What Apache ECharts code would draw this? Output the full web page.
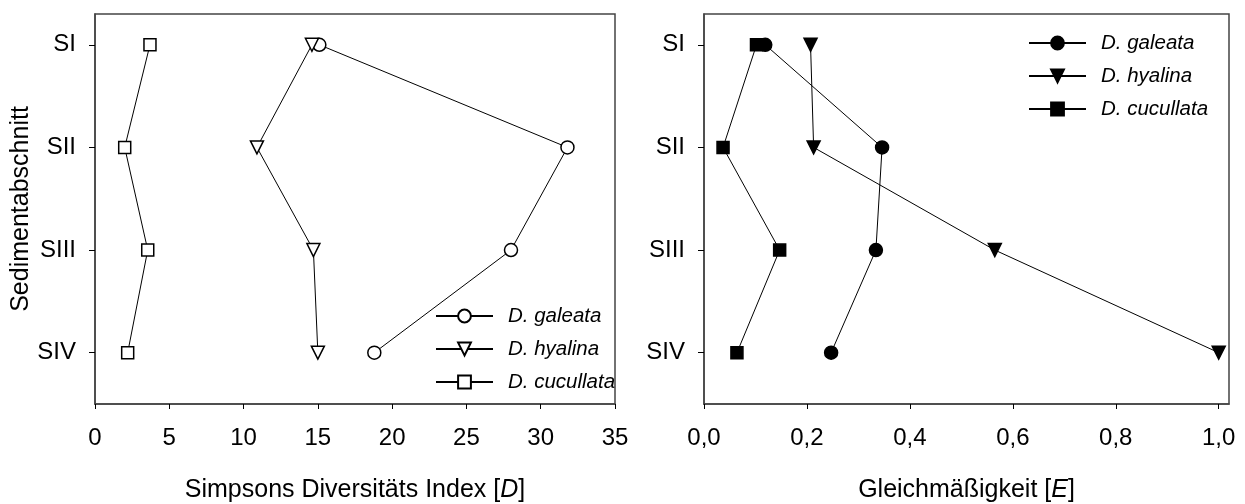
<!DOCTYPE html>
<html>
<head>
<meta charset="utf-8">
<script src="https://cdn.jsdelivr.net/npm/echarts@6/dist/echarts.min.js"></script>
<style>
html,body{margin:0;padding:0;background:#fff;}
#c{width:1245px;height:504px;}
</style>
</head>
<body>
<div id="c"></div>
<script>
// ---- data ----
const sections = ['SI', 'SII', 'SIII', 'SIV'];
const speciesNames = ['D. galeata', 'D. hyalina', 'D. cucullata'];

// Simpsons Diversitäts Index [D]
const simpsonGaleata   = [15.1, 31.8, 28.0, 18.8];
const simpsonHyalina   = [14.6, 10.9, 14.7, 15.0];
const simpsonCucullata = [3.7, 2.0, 3.55, 2.2];

// Gleichmäßigkeit [E]
const evenGaleata   = [0.119, 0.346, 0.334, 0.247];
const evenHyalina   = [0.207, 0.213, 0.565, 1.0];
const evenCucullata = [0.102, 0.037, 0.147, 0.064];

const simpsonTicks = [0, 5, 10, 15, 20, 25, 30, 35];
const evenTicks = [0, 0.2, 0.4, 0.6, 0.8, 1.0];
const sectionTicks = [1, 2, 3, 4];

// ---- chart ----
const FONT = '"Liberation Sans", Arial, Helvetica, sans-serif';
const FS = 24;
const TFS = 25;
const LFS = 20.5;
const chart = echarts.init(document.getElementById('c'), null, {renderer: 'canvas'});

function pts(arr) { return arr.map((v, i) => [v, i + 1]); }

const markers = [
  {symbol: 'circle', rotate: 0, size: 13},
  {symbol: 'triangle', rotate: 180, size: 13},
  {symbol: 'rect', rotate: 0, size: 12}
];

function mkSeries(name, values, idx, m, filled) {
  return {
    type: 'line',
    name: name,
    xAxisIndex: idx,
    yAxisIndex: idx,
    data: pts(values),
    symbol: m.symbol,
    symbolRotate: m.rotate,
    symbolSize: m.size,
    showSymbol: true,
    animation: false,
    lineStyle: {color: '#000', width: 1},
    itemStyle: {color: filled ? '#000' : '#fff', borderColor: '#000', borderWidth: 1.5},
    emphasis: {disabled: true}
  };
}

const leftSets = [simpsonGaleata, simpsonHyalina, simpsonCucullata];
const rightSets = [evenGaleata, evenHyalina, evenCucullata];
const series = [];
leftSets.forEach((s, i) => series.push(mkSeries(speciesNames[i], s, 0, markers[i], false)));
rightSets.forEach((s, i) => series.push(mkSeries(speciesNames[i] + ' ', s, 1, markers[i], true)));

function xAxisCfg(gridIndex, min, max, ticks, fmt, name) {
  return {
    type: 'value', gridIndex: gridIndex, min: min, max: max,
    splitLine: {show: false},
    axisLine: {show: true, lineStyle: {color: '#444', width: 1.5}},
    axisTick: {show: true, inside: false, length: 5, customValues: ticks, lineStyle: {color: '#000', width: 1}},
    axisLabel: {show: true, customValues: ticks, formatter: fmt, margin: 22,
      color: '#000', fontFamily: FONT, fontSize: FS},
    name: name, nameLocation: 'middle', nameGap: 74,
    nameTextStyle: {color: '#000', fontFamily: FONT, fontSize: TFS,
      rich: {i: {fontStyle: 'italic', fontFamily: FONT, fontSize: TFS, color: '#000'}}}
  };
}
function yAxisCfg(gridIndex, name) {
  return {
    type: 'value', gridIndex: gridIndex, min: 0.7, max: 4.5, inverse: true,
    splitLine: {show: false},
    axisLine: {show: true, lineStyle: {color: '#444', width: 1.5}},
    axisTick: {show: true, inside: false, length: 6, customValues: sectionTicks, lineStyle: {color: '#000', width: 1}},
    axisLabel: {show: true, customValues: sectionTicks, margin: 19,
      formatter: v => sections[Math.round(v) - 1] || '',
      color: '#000', fontFamily: FONT, fontSize: FS},
    name: name, nameLocation: 'middle', nameGap: 61, nameRotate: 90,
    nameTextStyle: {color: '#000', fontFamily: FONT, fontSize: TFS}
  };
}

const legendBase = {
  orient: 'vertical', padding: 0, itemGap: 9, itemWidth: 57, itemHeight: 16,
  selectedMode: false,
  textStyle: {color: '#000', fontFamily: FONT, fontSize: LFS, fontStyle: 'italic', lineHeight: 24, padding: [0, 0, 0, 10]}
};

chart.setOption({
  backgroundColor: '#fff',
  animation: false,
  grid: [
    {left: 95, top: 14, width: 520, height: 390, show: true, borderColor: '#444', borderWidth: 1.5,
      backgroundColor: 'transparent', outerBoundsMode: 'none', containLabel: false},
    {left: 704, top: 14, width: 525, height: 390, show: true, borderColor: '#444', borderWidth: 1.5,
      backgroundColor: 'transparent', outerBoundsMode: 'none', containLabel: false}
  ],
  xAxis: [
    xAxisCfg(0, 0, 35, simpsonTicks, v => String(v), 'Simpsons Diversitäts Index [{i|D}]'),
    xAxisCfg(1, 0, 1.02, evenTicks, v => v.toFixed(1).replace('.', ','), 'Gleichmäßigkeit [{i|E}]')
  ],
  yAxis: [
    yAxisCfg(0, 'Sedimentabschnitt'),
    yAxisCfg(1, '')
  ],
  legend: [
    Object.assign({}, legendBase, {left: 435, top: 304, data: speciesNames.slice(),
      formatter: n => n}),
    Object.assign({}, legendBase, {left: 1028, top: 31, data: speciesNames.map(n => n + ' '),
      formatter: n => n.trim()})
  ],
  series: series
});
</script>
</body>
</html>
